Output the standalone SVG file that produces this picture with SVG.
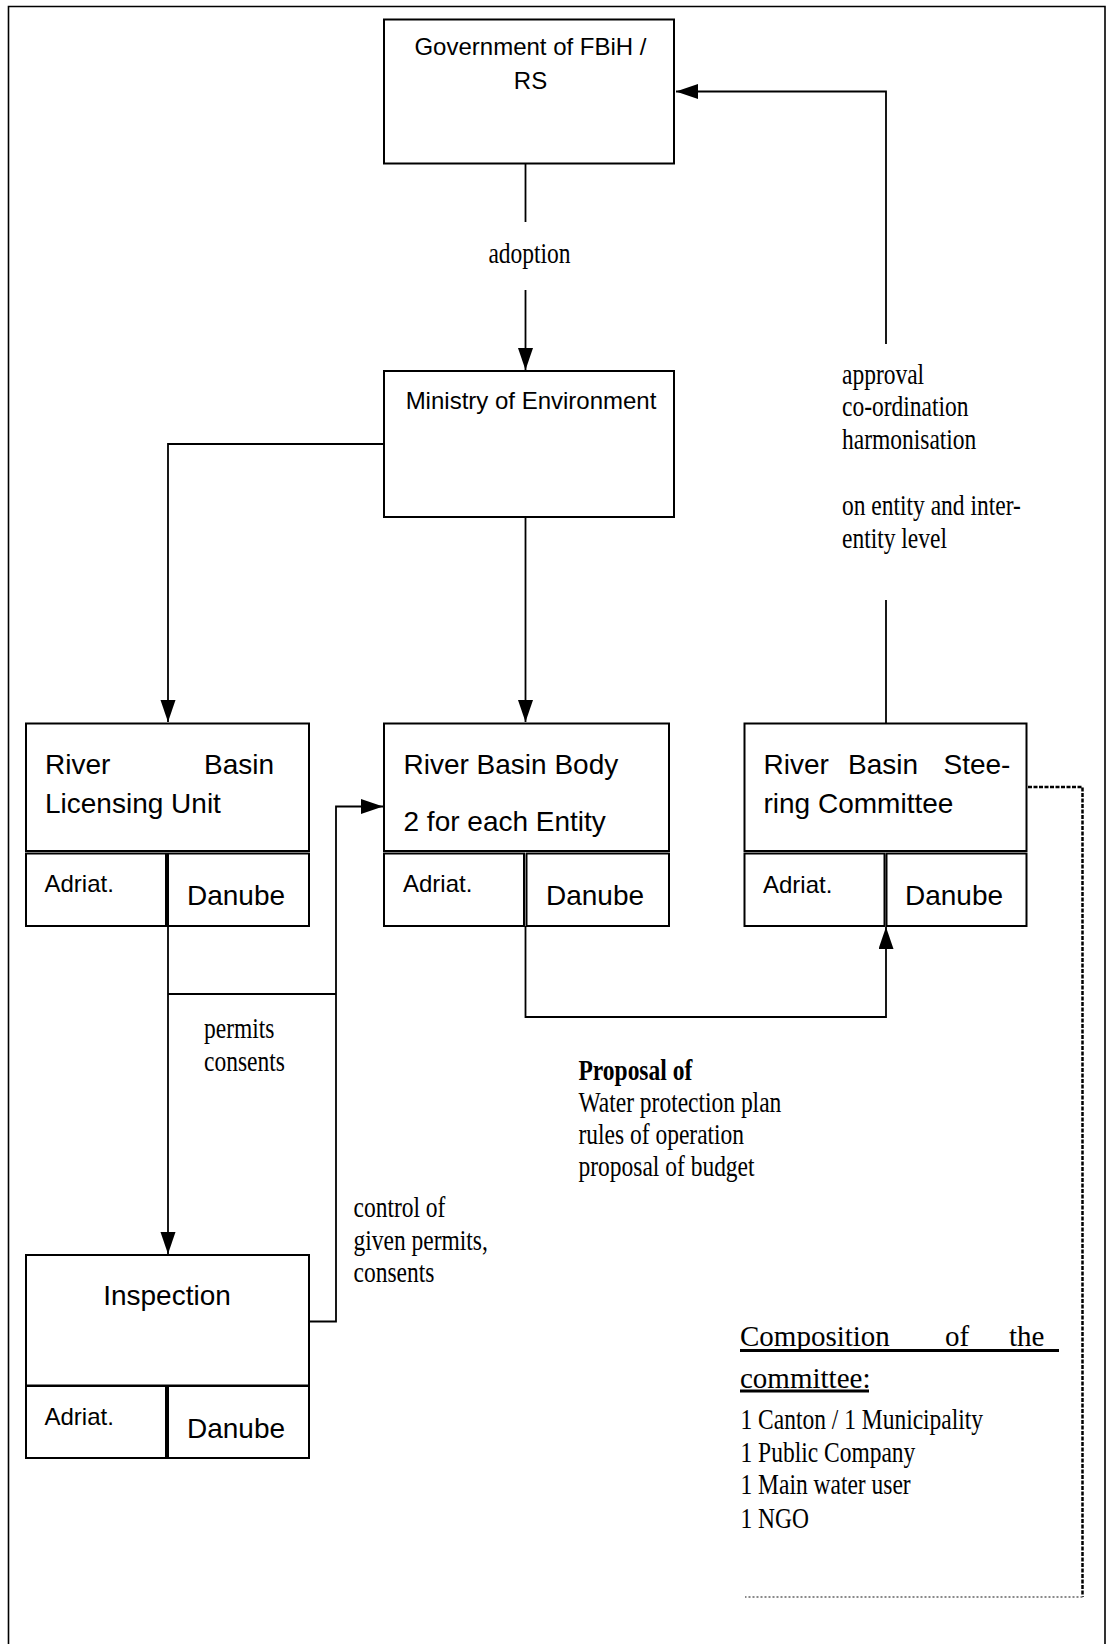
<svg xmlns="http://www.w3.org/2000/svg" width="1109" height="1644" viewBox="0 0 1109 1644">
  <style>
    .box { fill: #fff; stroke: #000; stroke-width: 2; }
    .sans { font-family: "Liberation Sans", Arial, sans-serif; fill: #000; }
    .serif { font-family: "Liberation Serif", "Times New Roman", serif; fill: #000; font-size: 29px; }
    .conn { fill: none; stroke: #000; stroke-width: 1.8; }
    .frame { fill: none; stroke: #000; stroke-width: 1.6; }
    .big { font-size: 28px; }
    .mid { font-size: 24px; }
  </style>
  <defs>
    <marker id="arrow" markerUnits="userSpaceOnUse" markerWidth="23" markerHeight="16" refX="22" refY="7.5" orient="auto">
      <path d="M0,0 L22,7.5 L0,15 z" fill="#000"/>
    </marker>
  </defs>

  <rect width="1109" height="1644" fill="#fff"/>
  <path class="frame" d="M8.5,1650 L8.5,6.5 L1105,6.5 L1105,1650"/>

  <g id="connectors">
    <line class="conn" x1="525.5" y1="164" x2="525.5" y2="222"/>
    <line class="conn" x1="525.5" y1="290" x2="525.5" y2="370" marker-end="url(#arrow)"/>
    <polyline class="conn" points="384,444 168,444 168,722" marker-end="url(#arrow)"/>
    <line class="conn" x1="525.5" y1="517" x2="525.5" y2="722" marker-end="url(#arrow)"/>
    <line class="conn" x1="886" y1="723" x2="886" y2="600"/>
    <polyline class="conn" points="886,344 886,91.5 676,91.5" marker-end="url(#arrow)"/>
    <line class="conn" x1="168" y1="926" x2="168" y2="1254" marker-end="url(#arrow)"/>
    <line class="conn" x1="168" y1="994" x2="336" y2="994"/>
    <polyline class="conn" points="309,1321.5 336,1321.5 336,806.5 383,806.5" marker-end="url(#arrow)"/>
    <polyline class="conn" points="525.5,926 525.5,1017 886,1017 886,927" marker-end="url(#arrow)"/>
    <polyline fill="none" stroke="#000" stroke-width="2.5" stroke-dasharray="4 1.5" points="1028,787 1082.5,787 1082.5,1597"/>
    <line x1="1082.5" y1="1597" x2="745" y2="1597" stroke="#8a8a8a" stroke-width="2" stroke-dasharray="2 2"/>
  </g>

  <g id="gov">
    <rect class="box" x="384" y="19.5" width="290" height="144"/>
    <text class="sans mid" text-anchor="middle"><tspan x="530.5" y="55">Government of FBiH /</tspan><tspan x="530.5" y="89">RS</tspan></text>
  </g>

  <g id="ministry">
    <rect class="box" x="384" y="371" width="290" height="146"/>
    <text class="sans mid" x="531" y="409" text-anchor="middle">Ministry of Environment</text>
  </g>

  <g id="rblu">
    <rect class="box" x="26" y="723.5" width="283" height="127.5"/>
    <rect class="box" x="26" y="853.5" width="140" height="72.5"/>
    <rect class="box" x="168" y="853.5" width="141" height="72.5"/>
    <text class="sans big"><tspan x="45" y="774">River</tspan><tspan x="204" y="774">Basin</tspan><tspan x="45" y="813">Licensing Unit</tspan></text>
    <text class="sans mid" x="44.5" y="891.5">Adriat.</text>
    <text class="sans big" x="187" y="905">Danube</text>
  </g>

  <g id="rbb">
    <rect class="box" x="384" y="723.5" width="285" height="127.5"/>
    <rect class="box" x="384" y="853.5" width="140" height="72.5"/>
    <rect class="box" x="526.5" y="853.5" width="142.5" height="72.5"/>
    <text class="sans big"><tspan x="403.5" y="773.5">River Basin Body</tspan><tspan x="403.5" y="830.5">2 for each Entity</tspan></text>
    <text class="sans mid" x="403" y="891.5">Adriat.</text>
    <text class="sans big" x="546" y="905">Danube</text>
  </g>

  <g id="rbsc">
    <rect class="box" x="744.5" y="723.5" width="282" height="127.5"/>
    <rect class="box" x="744.5" y="853.5" width="140" height="72.5"/>
    <rect class="box" x="886.5" y="853.5" width="140" height="72.5"/>
    <text class="sans big"><tspan x="763.5" y="774">River</tspan><tspan x="848" y="774">Basin</tspan><tspan x="943.5" y="774">Stee-</tspan><tspan x="763.5" y="812.5">ring Committee</tspan></text>
    <text class="sans mid" x="763" y="892.5">Adriat.</text>
    <text class="sans big" x="905" y="905">Danube</text>
  </g>

  <g id="inspection">
    <rect class="box" x="26" y="1255" width="283" height="130.5"/>
    <rect class="box" x="26" y="1386" width="140" height="72"/>
    <rect class="box" x="168" y="1386" width="141" height="72"/>
    <text class="sans big" x="167" y="1305" text-anchor="middle">Inspection</text>
    <text class="sans mid" x="44.5" y="1425">Adriat.</text>
    <text class="sans big" x="187" y="1437.5">Danube</text>
  </g>

  <g id="labels">
    <text class="serif" transform="translate(529.5,262.5) scale(0.81,1)" text-anchor="middle">adoption</text>
    <text class="serif" transform="translate(842,384) scale(0.81,1)"><tspan x="0" y="0">approval</tspan><tspan x="0" y="32.5">co-ordination</tspan><tspan x="0" y="65.3">harmonisation</tspan><tspan x="0" y="131">on entity and inter-</tspan><tspan x="0" y="164.3">entity level</tspan></text>
    <text class="serif" transform="translate(204,1038) scale(0.81,1)"><tspan x="0" y="0">permits</tspan><tspan x="0" y="33">consents</tspan></text>
    <text class="serif" transform="translate(353.5,1216.5) scale(0.81,1)"><tspan x="0" y="0">control of</tspan><tspan x="0" y="33.5">given permits,</tspan><tspan x="0" y="66">consents</tspan></text>
    <text class="serif" transform="translate(578.5,1080) scale(0.81,1)"><tspan x="0" y="0" font-weight="bold">Proposal of</tspan><tspan x="0" y="32">Water protection plan</tspan><tspan x="0" y="64">rules of operation</tspan><tspan x="0" y="96.5">proposal of budget</tspan></text>
  </g>

  <g id="composition">
    <text class="serif"><tspan x="740" y="1346">Composition</tspan><tspan x="945" y="1346">of</tspan><tspan x="1009" y="1346">the</tspan><tspan x="740" y="1387.5">committee:</tspan></text>
    <line x1="740" y1="1350.5" x2="1059" y2="1350.5" stroke="#000" stroke-width="2.8"/>
    <line x1="740" y1="1391" x2="869" y2="1391" stroke="#000" stroke-width="2.8"/>
    <text class="serif" transform="translate(740.5,1428.5) scale(0.81,1)"><tspan x="0" y="0">1 Canton / 1 Municipality</tspan><tspan x="0" y="33.3">1 Public Company</tspan><tspan x="0" y="66">1 Main water user</tspan><tspan x="0" y="100">1 NGO</tspan></text>
  </g>
</svg>
